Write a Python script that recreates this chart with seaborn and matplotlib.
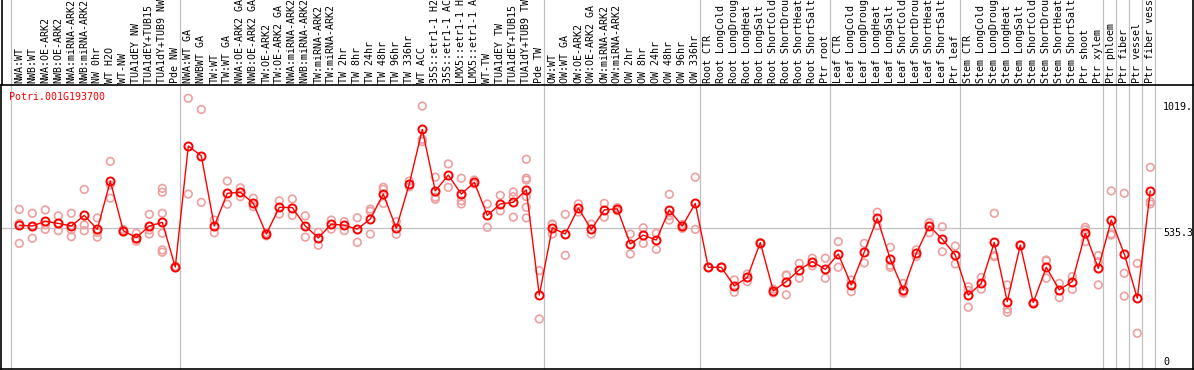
import numpy as np
import pandas as pd
import matplotlib
matplotlib.use("Agg")
import matplotlib.pyplot as plt
import matplotlib.transforms as mtransforms
from matplotlib.lines import Line2D
import seaborn as sns

sns.set_style("white")
plt.rcParams['font.family'] = ['DejaVu Sans Mono']

GENE = "Potri.001G193700"

# sample groups (separated by grey vertical lines)
group_nw = ["NWA:WT", "NWB:WT", "NWA:OE-ARK2", "NWB:OE-ARK2", "NWA:miRNA-ARK2",
            "NWB:miRNA-ARK2", "NW 0hr", "WT H2O", "WT-NW", "TUA1dEY NW",
            "TUA1dEY+TUB15 NW", "TUA1dY+TUB9 NW", "Pde NW"]
group_tw = ["NWA:WT GA", "NWBWT GA", "TW:WT", "TW:WT GA", "NWA:OE-ARK2 GA",
            "NWB:OE-ARK2 GA", "TW:OE-ARK2", "TW:OE-ARK2 GA", "NWA:miRNA-ARK2 GA",
            "NWB:miRNA-ARK2 GA", "TW:miRNA-ARK2", "TW:miRNA-ARK2 GA", "TW 2hr",
            "TW 8hr", "TW 24hr", "TW 48hr", "TW 96hr", "TW 336hr", "WT ACC",
            "35S::etr1-1 H2O", "35S::etr1-1 ACC", "LMX5::etr1-1 H2O",
            "LMX5::etr1-1 ACC", "WT-TW", "TUA1dEY TW", "TUA1dEY+TUB15 TW",
            "TUA1dY+TUB9 TW", "Pde TW"]
group_ow = ["OW:WT", "OW:WT GA", "OW:OE-ARK2", "OW:OE-ARK2 GA", "OW:miRNA-ARK2",
            "OW:miRNA-ARK2 GA", "OW 2hr", "OW 8hr", "OW 24hr", "OW 48hr",
            "OW 96hr", "OW 336hr"]
group_root = ["Root CTR", "Root LongCold", "Root LongDrought", "Root LongHeat",
              "Root LongSalt", "Root ShortCold", "Root ShortDrought",
              "Root ShortHeat", "Root ShortSalt", "Ptr root"]
group_leaf = ["Leaf CTR", "Leaf LongCold", "Leaf LongDrought", "Leaf LongHeat",
              "Leaf LongSalt", "Leaf ShortCold", "Leaf ShortDrought",
              "Leaf ShortHeat", "Leaf ShortSalt", "Ptr leaf"]
group_stem = ["Stem CTR", "Stem LongCold", "Stem LongDrought", "Stem LongHeat",
              "Stem LongSalt", "Stem ShortCold", "Stem ShortDrought",
              "Stem ShortHeat", "Stem ShortSalt", "Ptr shoot", "Ptr xylem"]
group_ptr = [["Ptr phloem"], ["Ptr fiber"], ["Ptr vessel"], ["Ptr fiber vessel"]]

groups = [group_nw, group_tw, group_ow, group_root, group_leaf, group_stem] + group_ptr
labels = [s for g in groups for s in g]

means = [546, 543, 561, 553, 543, 584, 530, 716, 525, 498, 543, 557, 385,
         851, 813, 543, 669, 673, 630, 512, 615, 614, 543, 497, 550, 546, 531,
         570, 666, 534, 705, 915, 678, 739, 666, 711, 584, 628, 634, 682, 277,
         536, 512, 612, 530, 605, 609, 474, 508, 489, 605, 543, 630,
         384, 384, 312, 345, 479, 293, 329, 374, 406, 376,
         435, 316, 443, 573, 415, 297, 438, 543, 492, 431,
         277, 322, 480, 252, 470, 248, 384, 297, 329, 515, 380,
         566, 435, 265, 678]

replicates = [
    [607, 476, 553], [592, 496, 541], [605, 530, 548], [582, 525, 553],
    [592, 502, 528], [684, 547, 525], [574, 500, 518], [792, 701, 650],
    [530, 520, 525], [515, 485, 494], [588, 512, 528],
    [688, 673, 592, 515, 451, 442], [388, 383, 385],
    [1035, 666], [992, 634], [566, 517], [716, 627], [690, 656], [650, 617],
    [517, 505], [640, 589], [647, 584], [582, 500], [519, 469], [566, 531],
    [560, 525], [575, 480], [608, 600, 512], [692, 684, 630], [560, 511],
    [716, 694], [1005, 877, 868], [731, 654, 646], [782, 692],
    [727, 640, 628], [720, 708, 705], [628, 538], [661, 601],
    [674, 656, 577], [800, 727, 720, 656, 615, 574], [371, 185],
    [551, 548, 512], [588, 430], [628, 597], [550, 512], [630, 577],
    [614, 602], [512, 435], [536, 476], [515, 453], [665, 566, 583],
    [547, 534, 548], [731, 530],
    [384, 384], [384, 384], [335, 288], [358, 329], [479, 479], [300, 285],
    [352, 278, 355], [399, 342], [419, 390], [419, 342],
    [483, 384], [335, 290], [476, 401], [596, 544], [461, 392, 384],
    [322, 288, 284], [451, 425], [556, 554, 517], [540, 444], [466, 397],
    [309, 295, 230], [345, 300], [592, 425, 429], [316, 223, 211], [470, 470],
    [248, 248], [412, 409, 342], [322, 267], [348, 299], [538, 528, 483],
    [429, 405, 316],
    [678, 512, 508], [669, 361, 273], [399, 130], [769, 637, 628]]

ref_ticks = ["1019.", "535.3", "0"]
ref_values = [1019, 535.3, 0]

RED = "#ff0000"
PINK = "#eea0a0"
GREY = "#c0c0c0"

mean_df = pd.DataFrame({"x": np.arange(len(labels)), "value": means})
rep_df = pd.DataFrame([(i, v) for i, reps in enumerate(replicates) for v in reps],
                      columns=["x", "value"])

fig = plt.figure(figsize=(11.94, 3.70), dpi=100)
ax = fig.add_axes([1 / 1194, 1 / 370, 1192 / 1194, 284 / 370])
ax.set_xlim(-1.408, 90.285)
ax.set_ylim(-7.7, 1086)

# group separators run through the header as well
bounds = np.concatenate([[0], np.cumsum([len(g) for g in groups])])
for b in bounds:
    ax.plot([b - 0.66, b - 0.66], [0, 1.30], color=GREY, lw=0.9,
            transform=ax.get_xaxis_transform(), clip_on=False, zorder=1)

ax.hlines(ref_values[1], -1.408, 87.9, color=GREY, lw=0.9, zorder=1)

sns.scatterplot(data=rep_df, x="x", y="value", ax=ax, marker="o", s=30,
                facecolors="none", edgecolor=PINK, linewidth=1.2, zorder=2,
                legend=False)
sns.lineplot(data=mean_df, x="x", y="value", ax=ax, color=RED, lw=1.0,
             marker="o", markersize=5.8, markerfacecolor="none",
             markeredgecolor=RED, markeredgewidth=1.4, zorder=3)

# sample names above the plot
trans = mtransforms.blended_transform_factory(ax.transData, ax.transAxes)
for i, lab in enumerate(labels):
    ax.text(i, 1.007, lab, rotation=90, ha="center", va="bottom", fontsize=7.2,
            transform=trans, clip_on=False, color="black")

ax.text(8 / 1192, 0.958, GENE, transform=ax.transAxes, color=RED,
        fontsize=7.2, ha="left", va="center")

for t, v in zip(ref_ticks, ref_values):
    ax.text(87.98, v, t, ha="left", va="bottom" if v == 0 else "top",
            fontsize=7.2, color="black")

ax.set_xticks([])
ax.set_yticks([])
ax.set_xlabel("")
ax.set_ylabel("")
for sp in ax.spines.values():
    sp.set_visible(True)
    sp.set_color("black")
    sp.set_linewidth(1.2)

# frame continues up through the header
fig.add_artist(Line2D([1.5 / 1194, 1.5 / 1194], [285 / 370, 1], color="black", lw=1.2))
fig.add_artist(Line2D([1192.5 / 1194, 1192.5 / 1194], [285 / 370, 1], color="black", lw=1.2))

fig.savefig("out.png", dpi=100)
